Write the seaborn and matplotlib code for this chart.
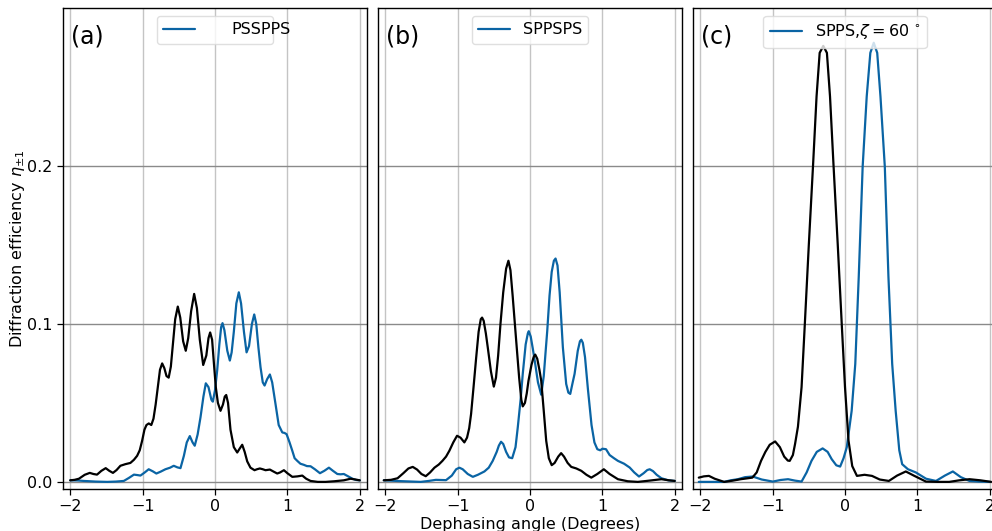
import numpy as np
import pandas as pd
import matplotlib
matplotlib.use("Agg")
import matplotlib.pyplot as plt
import matplotlib.transforms as mtransforms
import seaborn as sns

# ---------------- data ----------------
a_black_x = [-2.0, -1.94, -1.88, -1.80, -1.73, -1.68, -1.63, -1.57, -1.51, -1.46, -1.41, -1.36, -1.307, -1.24,
             -1.169, -1.12, -1.076, -1.04, -1.007, -0.975, -0.947, -0.915, -0.88, -0.85, -0.82, -0.79, -0.76,
             -0.73, -0.70, -0.67, -0.64, -0.61, -0.58, -0.55, -0.514, -0.48, -0.44, -0.404, -0.37, -0.33,
             -0.288, -0.25, -0.21, -0.163, -0.12, -0.09, -0.067, -0.04, -0.015, 0.011, 0.04, 0.076, 0.11,
             0.135, 0.155, 0.18, 0.214, 0.26, 0.307, 0.34, 0.376, 0.41, 0.445, 0.49, 0.546, 0.58, 0.62, 0.66,
             0.698, 0.728, 0.758, 0.81, 0.86, 0.90, 0.952, 1.0, 1.068, 1.14, 1.206, 1.26, 1.32, 1.42, 1.528,
             1.65, 1.78, 1.874, 1.94, 2.0]
a_black_y = [0.001, 0.0013, 0.002, 0.0045, 0.0057, 0.005, 0.0046, 0.007, 0.0087, 0.007, 0.0057, 0.0075, 0.0102,
             0.0112, 0.012, 0.014, 0.0165, 0.020, 0.026, 0.033, 0.036, 0.037, 0.036, 0.040, 0.049, 0.060, 0.071,
             0.075, 0.072, 0.067, 0.066, 0.073, 0.088, 0.103, 0.111, 0.104, 0.089, 0.083, 0.091, 0.108,
             0.119, 0.110, 0.090, 0.074, 0.080, 0.091, 0.0946, 0.090, 0.075, 0.060, 0.050, 0.045, 0.049,
             0.054, 0.055, 0.050, 0.033, 0.022, 0.0186, 0.021, 0.0235, 0.019, 0.013, 0.009, 0.0074, 0.008,
             0.0085, 0.008, 0.0074, 0.0076, 0.0078, 0.0065, 0.0053, 0.006, 0.0074, 0.0055, 0.0032, 0.0035,
             0.004, 0.002, 0.0006, 0.0, 0.0, 0.0004, 0.001, 0.002, 0.0015, 0.001]

a_blue_x = [-2.0, -1.9, -1.81, -1.65, -1.49, -1.37, -1.26, -1.19, -1.12, -1.07, -1.03, -0.97, -0.916, -0.86,
            -0.81, -0.75, -0.685, -0.62, -0.57, -0.52, -0.477, -0.43, -0.39, -0.348, -0.31, -0.28, -0.24,
            -0.20, -0.16, -0.127, -0.09, -0.05, -0.03, 0.0, 0.03, 0.06, 0.085, 0.104, 0.13, 0.17, 0.205,
            0.23, 0.26, 0.295, 0.329, 0.36, 0.40, 0.436, 0.47, 0.51, 0.542, 0.57, 0.60, 0.629, 0.66, 0.685,
            0.72, 0.758, 0.79, 0.837, 0.88, 0.93, 0.96, 0.989, 1.03, 1.068, 1.10, 1.137, 1.18, 1.228, 1.27,
            1.32, 1.38, 1.45, 1.51, 1.574, 1.63, 1.69, 1.735, 1.78, 1.84, 1.90, 1.95, 2.0]
a_blue_y = [0.001, 0.0009, 0.0006, 0.0002, 0.0, 0.0002, 0.0006, 0.0025, 0.0046, 0.0043, 0.004, 0.006, 0.008,
            0.0067, 0.0053, 0.0065, 0.008, 0.009, 0.0102, 0.0092, 0.0087, 0.0165, 0.025, 0.029, 0.025,
            0.0229, 0.030, 0.041, 0.054, 0.0624, 0.060, 0.052, 0.0508, 0.058, 0.0705, 0.087, 0.098, 0.1005,
            0.096, 0.083, 0.0768, 0.082, 0.095, 0.113, 0.120, 0.113, 0.095, 0.082, 0.086, 0.100, 0.106,
            0.100, 0.085, 0.0726, 0.063, 0.061, 0.065, 0.068, 0.063, 0.049, 0.036, 0.0313, 0.031, 0.0302,
            0.025, 0.0197, 0.015, 0.0133, 0.0115, 0.0108, 0.010, 0.0099, 0.008, 0.0055, 0.007, 0.009, 0.007,
            0.005, 0.0048, 0.005, 0.0035, 0.002, 0.0012, 0.001]

b_black_x = [-2.02, -1.92, -1.83, -1.75, -1.68, -1.62, -1.56, -1.50, -1.44, -1.38, -1.32, -1.26, -1.21, -1.16,
             -1.114, -1.06, -1.008, -0.96, -0.907, -0.87, -0.84, -0.814, -0.78, -0.745, -0.71, -0.68, -0.662,
             -0.64, -0.61, -0.584, -0.54, -0.50, -0.47, -0.44, -0.408, -0.37, -0.33, -0.298, -0.27, -0.24,
             -0.191, -0.15, -0.12, -0.10, -0.07, -0.045, -0.021, 0.02, 0.05, 0.072, 0.10, 0.13, 0.155, 0.19,
             0.224, 0.26, 0.30, 0.34, 0.39, 0.43, 0.47, 0.52, 0.57, 0.64, 0.709, 0.78, 0.847, 0.93, 1.02,
             1.10, 1.215, 1.35, 1.49, 1.65, 1.816, 1.92, 2.0]
b_black_y = [0.001, 0.0013, 0.0023, 0.0055, 0.0085, 0.0095, 0.0078, 0.005, 0.0036, 0.006, 0.009, 0.011, 0.0133,
             0.016, 0.0197, 0.025, 0.0292, 0.028, 0.025, 0.028, 0.034, 0.043, 0.060, 0.078, 0.095, 0.103, 0.104,
             0.102, 0.094, 0.0853, 0.070, 0.0603, 0.066, 0.080, 0.100, 0.120, 0.135, 0.140, 0.134, 0.118,
             0.0895, 0.066, 0.052, 0.0478, 0.050, 0.056, 0.064, 0.074, 0.079, 0.0806, 0.078, 0.071, 0.064,
             0.045, 0.026, 0.015, 0.0106, 0.012, 0.016, 0.0182, 0.016, 0.012, 0.0095, 0.0085, 0.007, 0.0045,
             0.0027, 0.005, 0.008, 0.005, 0.0017, 0.0004, 0.0, 0.0008, 0.0017, 0.001, 0.0006]

b_blue_x = [-2.02, -1.8, -1.51, -1.40, -1.30, -1.16, -1.08, -1.02, -0.976, -0.93, -0.86, -0.79, -0.72, -0.63,
            -0.57, -0.515, -0.46, -0.43, -0.40, -0.37, -0.33, -0.29, -0.246, -0.20, -0.169, -0.13, -0.10,
            -0.06, -0.03, -0.017, 0.01, 0.04, 0.072, 0.11, 0.155, 0.19, 0.215, 0.238, 0.27, 0.30, 0.33, 0.353,
            0.38, 0.41, 0.454, 0.50, 0.53, 0.556, 0.59, 0.616, 0.66, 0.69, 0.709, 0.73, 0.76, 0.80, 0.85,
            0.89, 0.93, 0.97, 1.00, 1.05, 1.10, 1.16, 1.215, 1.30, 1.377, 1.44, 1.506, 1.57, 1.62, 1.654,
            1.70, 1.75, 1.816, 1.91, 2.0]
b_blue_y = [0.001, 0.0005, 0.0, 0.0006, 0.0013, 0.0011, 0.004, 0.008, 0.009, 0.008, 0.005, 0.0032, 0.0045,
            0.0066, 0.009, 0.0133, 0.019, 0.023, 0.0254, 0.024, 0.019, 0.0155, 0.015, 0.022, 0.0345, 0.052,
            0.0684, 0.087, 0.094, 0.0954, 0.092, 0.084, 0.0747, 0.063, 0.0552, 0.067, 0.082, 0.0955, 0.118,
            0.133, 0.140, 0.1414, 0.137, 0.120, 0.0852, 0.062, 0.0565, 0.0557, 0.063, 0.0684, 0.083, 0.089,
            0.090, 0.088, 0.079, 0.0588, 0.036, 0.025, 0.0207, 0.020, 0.021, 0.0207, 0.017, 0.015, 0.0133,
            0.0115, 0.0091, 0.006, 0.0034, 0.0055, 0.0075, 0.008, 0.0068, 0.0045, 0.0023, 0.001, 0.0006]

c_black_x = [-2.02, -1.95, -1.88, -1.80, -1.67, -1.55, -1.44, -1.28, -1.22, -1.16, -1.10, -1.04, -0.965, -0.90,
             -0.84, -0.79, -0.764, -0.72, -0.69, -0.65, -0.60, -0.555, -0.50, -0.44, -0.393, -0.35, -0.30,
             -0.25, -0.207, -0.16, -0.10, -0.045, 0.0, 0.049, 0.10, 0.165, 0.27, 0.373, 0.48, 0.606, 0.72,
             0.84, 0.95, 1.118, 1.28, 1.44, 1.58, 1.72, 1.87, 2.02]
c_black_y = [0.0027, 0.0035, 0.0038, 0.002, 0.0, 0.0008, 0.0017, 0.0027, 0.006, 0.0133, 0.019, 0.0235, 0.0256,
             0.022, 0.016, 0.0135, 0.0133, 0.017, 0.024, 0.035, 0.060, 0.100, 0.150, 0.2017, 0.244, 0.2716,
             0.276, 0.2716, 0.244, 0.2017, 0.150, 0.100, 0.060, 0.026, 0.010, 0.0038, 0.0045, 0.0038, 0.0015,
             0.0006, 0.004, 0.0066, 0.004, 0.0002, 0.0, 0.0, 0.001, 0.0017, 0.001, 0.0]

c_blue_x = [-2.02, -1.85, -1.67, -1.58, -1.48, -1.38, -1.275, -1.15, -0.997, -0.89, -0.787, -0.69, -0.60, -0.53,
            -0.463, -0.39, -0.309, -0.24, -0.184, -0.12, -0.067, -0.02, 0.025, 0.092, 0.142, 0.19, 0.244, 0.30,
            0.35, 0.397, 0.445, 0.49, 0.55, 0.60, 0.652, 0.70, 0.75, 0.79, 0.87, 0.978, 1.12, 1.257, 1.38,
            1.49, 1.60, 1.72, 1.85, 2.0]
c_blue_y = [0.0, 0.0, 0.0, 0.001, 0.0017, 0.003, 0.0034, 0.0015, 0.0002, 0.0012, 0.0017, 0.0008, 0.0002, 0.006,
            0.0133, 0.019, 0.0212, 0.019, 0.0144, 0.0105, 0.0097, 0.015, 0.022, 0.045, 0.0747, 0.130, 0.1996,
            0.244, 0.2716, 0.278, 0.2716, 0.244, 0.1996, 0.130, 0.0747, 0.045, 0.020, 0.0112, 0.008, 0.006,
            0.002, 0.0006, 0.004, 0.0066, 0.003, 0.0006, 0.0002, 0.0]

panel_tags = ["(a)", "(b)", "(c)"]
legend_labels = ["PSSPPS", "SPPSPS", r"SPPS,$\zeta = 60\,^\circ$"]
x_ticks = [-2, -1, 0, 1, 2]
y_ticks = [0.0, 0.1, 0.2]

panels = [
    (a_black_x, a_black_y, a_blue_x, a_blue_y),
    (b_black_x, b_black_y, b_blue_x, b_blue_y),
    (c_black_x, c_black_y, c_blue_x, c_blue_y),
]

# ---------------- style ----------------
sns.set_style("white")
plt.rcParams["font.family"] = ["DejaVu Sans"]
plt.rcParams["mathtext.fontset"] = "dejavusans"
for k in ["text.color", "axes.labelcolor", "xtick.color", "ytick.color"]:
    plt.rcParams[k] = "black"
FS = 11.5
BLUE = "#0a64a4"

fig = plt.figure(figsize=(9.92, 5.31), dpi=100)
lefts = [63 / 992, 378 / 992, 693 / 992]
bottom = 42 / 531
height = 481 / 531
width = 304 / 992

axes = []
for i, (bx, by, ux, uy) in enumerate(panels):
    ax = fig.add_axes([lefts[i], bottom, width, height])
    axes.append(ax)
    dfk = pd.DataFrame({"x": bx, "y": by})
    dfb = pd.DataFrame({"x": ux, "y": uy})
    sns.lineplot(data=dfb, x="x", y="y", ax=ax, color=BLUE, lw=1.6, label=legend_labels[i], zorder=3)
    sns.lineplot(data=dfk, x="x", y="y", ax=ax, color="black", lw=1.6, zorder=4)
    ax.set_xlim(-2.1, 2.1)
    ax.set_ylim(-0.0045, 0.30)
    ax.set_xticks(x_ticks)
    ax.set_xticklabels(["\u22122", "\u22121", "0", "1", "2"])
    ax.set_yticks(y_ticks)
    ax.xaxis.grid(True, color="#c4c4c4", lw=1.0)
    ax.yaxis.grid(True, color="#8a8a8a", lw=1.0)
    ax.set_axisbelow(True)
    for s in ax.spines.values():
        s.set_color("black")
        s.set_linewidth(1.0)
    ax.tick_params(axis="both", labelsize=FS, bottom=True, left=True, length=4, width=0.9,
                   direction="out", colors="black")
    ax.set_xlabel("")
    ax.set_ylabel("")
    if i > 0:
        ax.tick_params(axis="y", left=False, labelleft=False)
    ax.text(0.025, 0.965, panel_tags[i], transform=ax.transAxes, fontsize=17,
            va="top", ha="left", color="black")
    leg = ax.legend(loc="upper center", fontsize=FS, frameon=True, handlelength=2.0)
    leg.get_frame().set_edgecolor("#d8d8d8")
    for t in leg.get_texts():
        t.set_color("black")
    if i == 0:
        t = leg.get_texts()[0]
        t.set_transform(t.get_transform() + mtransforms.Affine2D().translate(24, 0))

axes[0].set_yticklabels(["0.0", "0.1", "0.2"])
axes[0].set_ylabel(r"Diffraction efficiency $\eta_{\pm 1}$", fontsize=FS, labelpad=0)
axes[1].set_xlabel("Dephasing angle (Degrees)", fontsize=FS, labelpad=2)

fig.savefig("out.png", dpi=100)
